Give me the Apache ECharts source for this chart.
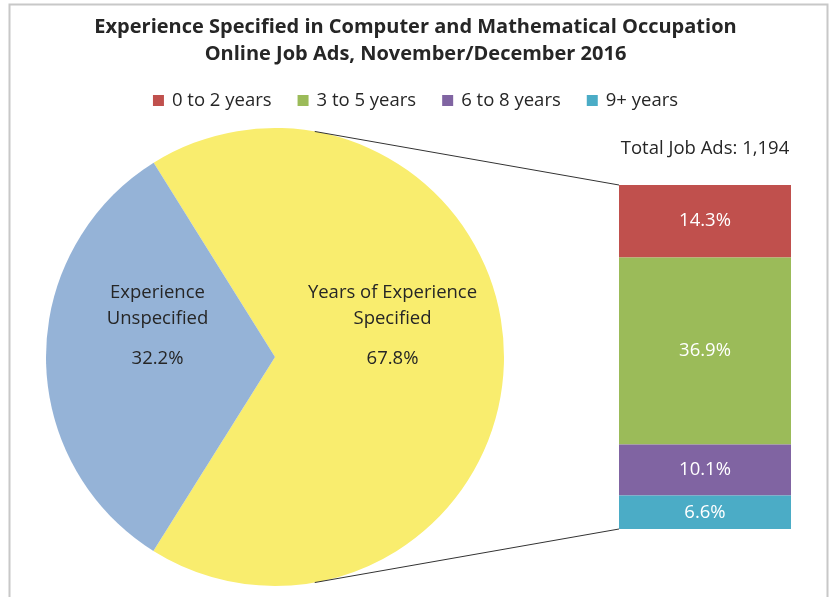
<!DOCTYPE html>
<html>
<head>
<meta charset="utf-8">
<script src="https://cdn.jsdelivr.net/npm/echarts@6/dist/echarts.min.js"></script>
<style>
  html, body { margin: 0; padding: 0; background: #fff; }
  #main { width: 831px; height: 597px; }
</style>
</head>
<body>
<div id="main"></div>
<script>
// pie: share of ads with/without experience specified
var pieNames = ['Years of Experience\nSpecified', 'Experience\nUnspecified'];
var pieValues = [67.8, 32.2];
var pieColors = ['#F9ED6E', '#95B3D7'];

// bar: breakdown of the specified part
var barNames = ['0 to 2 years', '3 to 5 years', '6 to 8 years', '9+ years'];
var barValues = [14.3, 36.9, 10.1, 6.6];
var barColors = ['#C0504D', '#9BBB59', '#8064A2', '#4BACC6'];
var totalAds = '1,194';

var FONT = 'Open Sans';
var FS = 18.5;
var pieCenter = [275, 357];
var pieRadius = 229;

var barTotal = 0;
barValues.forEach(function (v) { barTotal += v; });

var myChart = echarts.init(document.getElementById('main'));

var barSeries = barNames.map(function (name, i) {
    return {
        name: name,
        type: 'bar',
        stack: 'exp',
        barWidth: '100%',
        data: [barValues[i]],
        itemStyle: {color: barColors[i]},
        label: {
            show: true,
            position: 'inside',
            formatter: function (p) { return p.value.toFixed(1) + '%'; },
            color: '#fff',
            fontFamily: FONT,
            fontSize: FS
        },
        emphasis: {disabled: true}
    };
});

var option = {
    animation: false,
    textStyle: {fontFamily: FONT},
    title: [
        {
            text: 'Experience Specified in Computer and Mathematical Occupation\nOnline Job Ads, November/December 2016',
            left: 'center',
            top: 9,
            textStyle: {fontFamily: FONT, fontSize: 20, fontWeight: 'bold', color: '#262626', lineHeight: 27}
        },
        {
            text: 'Total Job Ads: ' + totalAds,
            left: 700,
            top: 134,
            textAlign: 'center',
            textStyle: {fontFamily: FONT, fontSize: FS, fontWeight: 'normal', color: '#262626'}
        }
    ],
    legend: {
        data: barNames,
        top: 86,
        left: 'center',
        icon: 'rect',
        itemWidth: 11,
        itemHeight: 11,
        itemGap: 26,
        textStyle: {fontFamily: FONT, fontSize: FS, color: '#262626', padding: [0, 0, 0, 3]}
    },
    grid: {left: 619, width: 172, top: 185, height: 344},
    xAxis: {type: 'category', data: ['Specified'], show: false},
    yAxis: {type: 'value', min: 0, max: barTotal, inverse: true, show: false},
    series: [
        {
            type: 'pie',
            center: pieCenter,
            radius: pieRadius,
            startAngle: 122,
            clockwise: true,
            silent: true,
            data: pieNames.map(function (n, i) {
                return {name: n, value: pieValues[i], itemStyle: {color: pieColors[i]}};
            }),
            label: {
                show: true,
                position: 'inside',
                offset: [0, -24],
                formatter: function (p) {
                    var lines = p.name.split('\n').map(function (l) { return '{n|' + l + '}'; });
                    return lines.join('\n') + '\n{p|' + p.value.toFixed(1) + '%}';
                },
                rich: {
                    n: {fontFamily: FONT, fontSize: FS, color: '#262626', lineHeight: 26},
                    p: {fontFamily: FONT, fontSize: FS, color: '#262626', lineHeight: 54}
                }
            },
            labelLine: {show: false}
        }
    ].concat(barSeries)
};
myChart.setOption(option);

// frame and connector lines from the pie edge to the bar corners
var topCorner = myChart.convertToPixel({gridIndex: 0}, [0, 0]);
var botCorner = myChart.convertToPixel({gridIndex: 0}, [0, barTotal]);
var barLeft = 619;
var ang = 80 * Math.PI / 180;
var pTop = [pieCenter[0] + pieRadius * Math.cos(ang), pieCenter[1] - pieRadius * Math.sin(ang)];
var pBot = [pieCenter[0] + pieRadius * Math.cos(ang), pieCenter[1] + pieRadius * Math.sin(ang)];

myChart.setOption({
    graphic: [
        {
            type: 'rect',
            shape: {x: 9.5, y: 4.5, width: 818, height: 620},
            style: {fill: 'none', stroke: '#C8C8C8', lineWidth: 2},
            silent: true
        },
        {
            type: 'line',
            shape: {x1: pTop[0], y1: pTop[1], x2: barLeft, y2: topCorner[1]},
            style: {stroke: '#333', lineWidth: 1},
            z: 10
        },
        {
            type: 'line',
            shape: {x1: pBot[0], y1: pBot[1], x2: barLeft, y2: botCorner[1]},
            style: {stroke: '#333', lineWidth: 1},
            z: 10
        }
    ]
});
</script>
</body>
</html>
